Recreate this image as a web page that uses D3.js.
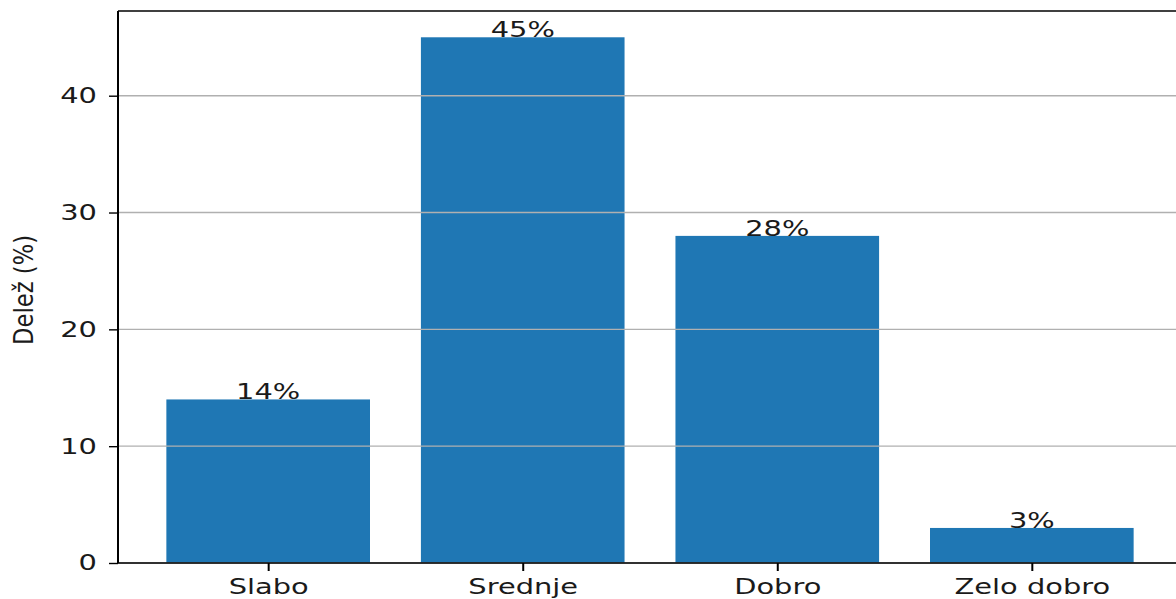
<!DOCTYPE html>
<html>
<head>
<meta charset="utf-8">
<script src="https://cdn.jsdelivr.net/npm/d3@7"></script>
<style>
  html, body { margin: 0; padding: 0; background: #ffffff; }
  svg { display: block; }
  text { font-family: "DejaVu Sans", sans-serif; fill: #1a1a1a; }
</style>
</head>
<body>
<svg id="chart" width="1176" height="599"></svg>
<script>
// Ocene in deleži odgovorov
const categories = ["Slabo", "Srednje", "Dobro", "Zelo dobro"];
const shares = [14, 45, 28, 3];
const yTicks = [0, 10, 20, 30, 40];
const yLabel = "Delež (%)";

const W = 1176, H = 599;
const plot = { left: 118, right: 1182, top: 11, bottom: 563 };
const textSX = 1.41;      // horizontal stretch of the text glyphs
const fontPx = 20.5;

const svg = d3.select("#chart");

// Band positions: bars of width 0.8 per unit step, with 5% margins like matplotlib
const n = categories.length;
const xLin = d3.scaleLinear()
  .domain([-0.4 - 0.05 * (n - 0.2), (n - 1) + 0.4 + 0.05 * (n - 0.2)])
  .range([plot.left, plot.right]);
const barW = xLin(0.8) - xLin(0);

const y = d3.scaleLinear()
  .domain([0, d3.max(shares) * 1.05])
  .range([plot.bottom, plot.top]);

// Bars
svg.append("g")
  .selectAll("rect")
  .data(shares)
  .join("rect")
  .attr("x", (d, i) => xLin(i) - barW / 2)
  .attr("width", barW)
  .attr("y", d => y(d))
  .attr("height", d => y(0) - y(d))
  .attr("fill", "#1f77b4");

// Horizontal grid lines (drawn above the bars)
svg.append("g")
  .selectAll("line")
  .data(yTicks)
  .join("line")
  .attr("x1", plot.left)
  .attr("x2", plot.right)
  .attr("y1", d => y(d))
  .attr("y2", d => y(d))
  .attr("stroke", "#b0b0b0")
  .attr("stroke-width", 1.4);

// Y axis ticks and labels
const yAxis = d3.axisLeft(y).tickValues(yTicks).tickSize(9).tickPadding(0).tickFormat(d3.format("d"));
const gy = svg.append("g").attr("transform", `translate(${plot.left},0)`).call(yAxis);
gy.select(".domain").remove();
gy.selectAll(".tick line").attr("stroke", "#000").attr("stroke-width", 1.4);
gy.selectAll(".tick text")
  .attr("x", 0).attr("dy", null)
  .attr("text-anchor", "end")
  .attr("dominant-baseline", "central")
  .attr("font-size", fontPx)
  .attr("fill", "#1a1a1a")
  .attr("transform", `translate(-21,0) scale(${textSX},1)`);

// X axis ticks and labels
const xAxis = d3.axisBottom(xLin).tickValues(d3.range(n)).tickSize(8).tickPadding(0)
  .tickFormat(i => categories[i]);
const gx = svg.append("g").attr("transform", `translate(0,${plot.bottom})`).call(xAxis);
gx.select(".domain").remove();
gx.selectAll(".tick line").attr("stroke", "#000").attr("stroke-width", 2);
gx.selectAll(".tick text")
  .attr("y", 0).attr("dy", null)
  .attr("text-anchor", "middle")
  .attr("font-size", fontPx)
  .attr("fill", "#1a1a1a")
  .attr("transform", `translate(0,31) scale(${textSX},1)`);

// Spines
const sp = svg.append("g").attr("stroke", "#000").attr("fill", "none");
sp.append("line").attr("x1", plot.left).attr("x2", plot.left)
  .attr("y1", plot.top).attr("y2", plot.bottom).attr("stroke-width", 2);
sp.append("line").attr("x1", plot.left).attr("x2", plot.right)
  .attr("y1", plot.bottom).attr("y2", plot.bottom).attr("stroke-width", 1.4);
sp.append("line").attr("x1", plot.left).attr("x2", plot.right)
  .attr("y1", plot.top).attr("y2", plot.top).attr("stroke-width", 1.4);
sp.append("line").attr("x1", plot.right).attr("x2", plot.right)
  .attr("y1", plot.top).attr("y2", plot.bottom).attr("stroke-width", 2);

// Value labels sitting on the bar tops
svg.append("g")
  .selectAll("text")
  .data(shares)
  .join("text")
  .attr("text-anchor", "middle")
  .attr("font-size", fontPx)
  .attr("transform", (d, i) => `translate(${xLin(i)},${y(d)}) scale(${textSX},1)`)
  .text(d => d + "%");

// Y axis title
svg.append("text")
  .attr("text-anchor", "middle")
  .attr("font-size", 22.7)
  .attr("transform", `translate(33,290) scale(1.15,1) rotate(-90)`)
  .text(yLabel);
</script>
</body>
</html>
